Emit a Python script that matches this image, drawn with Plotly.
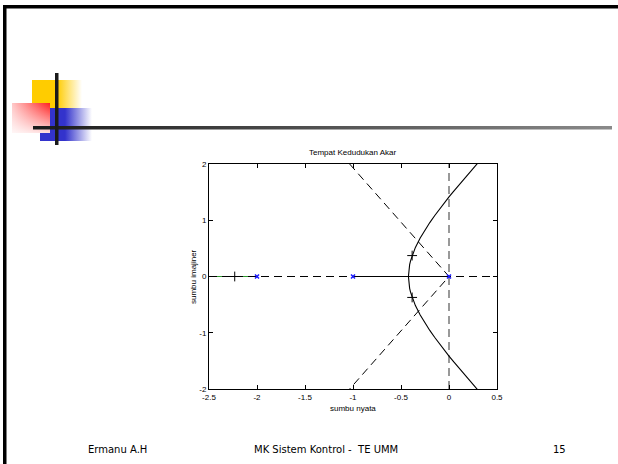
import plotly.graph_objects as go

# ---------------- data ----------------
pole_re = [0.0, -1.0, -2.0]
pole_im = [0.0, 0.0, 0.0]

# upper complex branch of the root locus
branch_re = [-0.4226, -0.42, -0.41, -0.40, -0.38, -0.35, -0.30, -0.25, -0.20, -0.15,
             -0.10, -0.05, 0.0, 0.05, 0.10, 0.15, 0.20, 0.25, 0.30]
branch_im = [0.0, 0.096, 0.210, 0.283, 0.391, 0.517, 0.686, 0.829, 0.959, 1.080,
             1.196, 1.307, 1.414, 1.519, 1.622, 1.723, 1.822, 1.920, 2.017]

# real-axis locus segments
seg_mid_re = [-1.0, 0.0]
seg_left_re = [-2.5, -2.0]

# selected closed-loop poles (+ markers)
sel_re = [-2.232, -0.384, -0.384]
sel_im = [0.0, 0.372, -0.372]

# damping-ratio grid line
zeta_re = [-1.035, 0.0, -1.035]
zeta_im = [2.0, 0.0, -2.0]

x_ticks = [-2.5, -2, -1.5, -1, -0.5, 0, 0.5]
x_tick_text = ["-2.5", "-2", "-1.5", "-1", "-0.5", "0", "0.5"]
y_ticks = [-2, -1, 0, 1, 2]
y_tick_text = ["-2", "-1", "0", "1", "2"]

title_text = "Tempat Kedudukan Akar"
x_title = "sumbu nyata"
y_title = "sumbu imajiner"
footer_left = "Ermanu A.H"
footer_mid = "MK Sistem Kontrol -  TE UMM"
footer_right = "15"

W, H = 618, 464
x0, x1 = 209, 497
y0, y1 = 164, 389

fig = go.Figure()

# ---- slide decoration (pixel coordinates on overlay axes) ----
def rect(xa, xb, ya, yb, grad_type=None, scale=None, color=None):
    kw = {}
    if grad_type:
        kw["fillgradient"] = dict(type=grad_type, colorscale=scale)
    else:
        kw["fillcolor"] = color
    fig.add_trace(go.Scatter(x=[xa, xb, xb, xa, xa], y=[ya, ya, yb, yb, ya],
                             mode="lines", line=dict(width=0), fill="toself",
                             xaxis="x2", yaxis="y2", hoverinfo="skip", **kw))

rect(32, 82, 80, 108, "horizontal",
     [[0, "#ffcc00"], [0.5, "#ffcc00"], [1, "rgba(255,204,0,0)"]])
rect(40, 92, 108, 141, "horizontal",
     [[0, "#3333cc"], [0.48, "#3333cc"], [1, "rgba(51,51,204,0)"]])
rect(12, 50, 103, 133, "horizontal",
     [[0, "#ffc8c8"], [1, "#ff2020"]])
rect(12, 50, 103, 133, "vertical",
     [[0, "rgba(255,255,255,0.85)"], [1, "rgba(255,255,255,0)"]])
rect(33, 612, 126, 129.5, "horizontal",
     [[0, "#1a1a1a"], [1, "#8a8a8a"]])
rect(55, 58.5, 73, 145, color="#1a1a1a")
rect(3, 6.5, 5, 464, color="black")
rect(3, 618, 5, 8.5, color="black")

# ---- plot traces ----
fig.add_trace(go.Scatter(x=seg_left_re, y=[0, 0], mode="lines",
                         line=dict(color="#2e9a2e", width=1), hoverinfo="skip"))
fig.add_trace(go.Scatter(x=[x_ticks[0], x_ticks[-1]], y=[0, 0], mode="lines",
                         line=dict(color="black", width=1, dash="8px,5px"), hoverinfo="skip"))
fig.add_trace(go.Scatter(x=[0, 0], y=[y_ticks[0], y_ticks[-1]], mode="lines",
                         line=dict(color="#808080", width=1.6, dash="8px,5px"), hoverinfo="skip"))
fig.add_trace(go.Scatter(x=zeta_re, y=zeta_im, mode="lines",
                         line=dict(color="black", width=1, dash="8px,5px"), hoverinfo="skip"))
fig.add_trace(go.Scatter(x=seg_mid_re, y=[0, 0], mode="lines",
                         line=dict(color="black", width=1), hoverinfo="skip"))
fig.add_trace(go.Scatter(x=branch_re, y=branch_im, mode="lines",
                         line=dict(color="black", width=1.1), hoverinfo="skip"))
fig.add_trace(go.Scatter(x=branch_re, y=[-v for v in branch_im], mode="lines",
                         line=dict(color="black", width=1.1), hoverinfo="skip"))
fig.add_trace(go.Scatter(x=pole_re, y=pole_im, mode="markers",
                         marker=dict(symbol="x-thin", size=4, color="#1a1aff",
                                     line=dict(color="#1a1aff", width=1.5)), hoverinfo="skip"))
fig.add_trace(go.Scatter(x=sel_re, y=sel_im, mode="markers",
                         marker=dict(symbol="cross-thin", size=7, color="black",
                                     line=dict(color="black", width=1)), hoverinfo="skip"))

tick_font = dict(family="Liberation Sans, Arial", size=8, color="black")

def px_x(p):
    return p / W

def px_y(p):
    return 1 - p / H

annotations = [
    dict(text=title_text, x=px_x(353), y=px_y(152), xref="paper", yref="paper",
         showarrow=False, font=tick_font, xanchor="center", yanchor="middle"),
    dict(text=x_title, x=px_x(353), y=px_y(408), xref="paper", yref="paper",
         showarrow=False, font=tick_font, xanchor="center", yanchor="middle"),
    dict(text=y_title, x=px_x(193), y=px_y(277), xref="paper", yref="paper",
         showarrow=False, font=tick_font, textangle=-90, xanchor="center", yanchor="middle"),
]
foot_font = dict(family="DejaVu Sans", size=10, color="black")
annotations += [
    dict(text=footer_left, x=px_x(86), y=px_y(449), xref="paper", yref="paper",
         showarrow=False, font=foot_font, xanchor="left", yanchor="middle"),
    dict(text=footer_mid, x=px_x(326), y=px_y(449), xref="paper", yref="paper",
         showarrow=False, font=foot_font, xanchor="center", yanchor="middle"),
    dict(text=footer_right, x=px_x(568), y=px_y(449), xref="paper", yref="paper",
         showarrow=False, font=foot_font, xanchor="right", yanchor="middle"),
]

fig.update_layout(
    width=W, height=H,
    margin=dict(l=0, r=0, t=0, b=0),
    paper_bgcolor="white", plot_bgcolor="rgba(0,0,0,0)",
    showlegend=False,
    xaxis=dict(domain=[x0 / W, x1 / W], range=[-2.5, 0.5], tickvals=x_ticks,
               ticktext=x_tick_text, ticks="inside", ticklen=4, tickcolor="black",
               showline=True, linecolor="black", linewidth=1, mirror="allticks",
               showgrid=False, zeroline=False, tickfont=tick_font, anchor="y",
               automargin=False),
    yaxis=dict(domain=[1 - y1 / H, 1 - y0 / H], range=[-2, 2], tickvals=y_ticks,
               ticktext=y_tick_text, ticks="inside", ticklen=4, tickcolor="black",
               showline=True, linecolor="black", linewidth=1, mirror="allticks",
               showgrid=False, zeroline=False, tickfont=tick_font, anchor="x",
               automargin=False),
    xaxis2=dict(domain=[0, 1], range=[0, W], visible=False, anchor="y2", fixedrange=True),
    yaxis2=dict(domain=[0, 1], range=[H, 0], visible=False, anchor="x2", fixedrange=True),
    annotations=annotations,
)

fig.write_html("out.html", config={"displayModeBar": False},
               post_script="document.body.style.margin='0';")
